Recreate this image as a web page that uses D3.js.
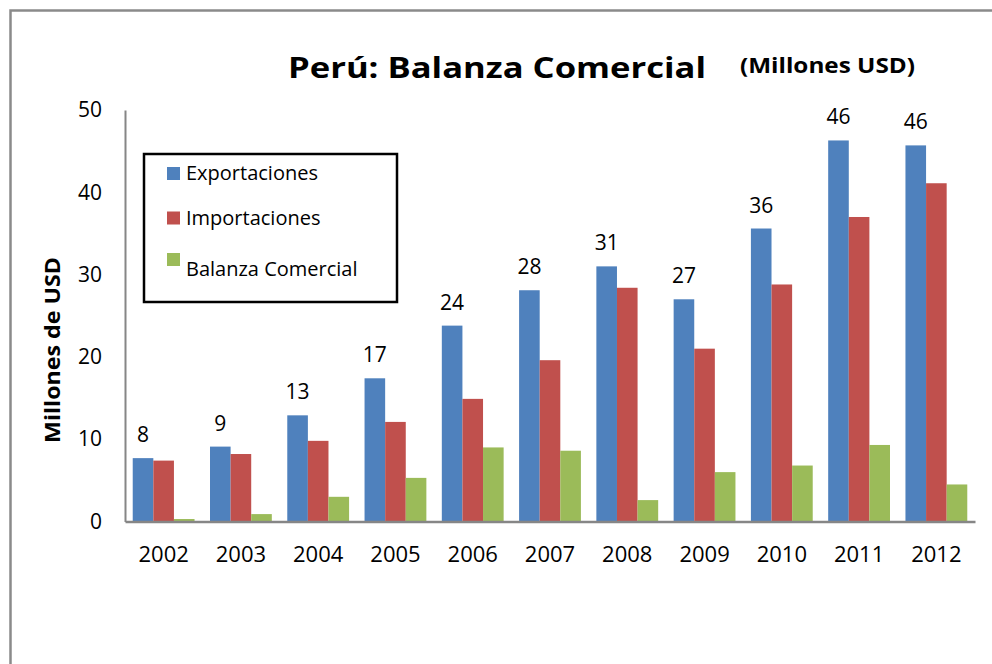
<!DOCTYPE html>
<html>
<head>
<meta charset="utf-8">
<script src="https://cdn.jsdelivr.net/npm/d3@7"></script>
<style>
  body { margin: 0; background: #fff; }
  svg text { font-family: "Open Sans", "DejaVu Sans", sans-serif; fill: #000; }
</style>
</head>
<body>
<svg id="chart" width="992" height="664"></svg>
<script>
// Data (millones USD)
const years = ["2002", "2003", "2004", "2005", "2006", "2007", "2008", "2009", "2010", "2011", "2012"];
const series = ["Exportaciones", "Importaciones", "Balanza Comercial"];
const exportaciones = [7.7, 9.1, 12.9, 17.4, 23.8, 28.1, 31.0, 27.0, 35.6, 46.3, 45.7];
const importaciones = [7.4, 8.2, 9.8, 12.1, 14.9, 19.6, 28.4, 21.0, 28.8, 37.0, 41.1];
const balanza = [0.3, 0.9, 3.0, 5.3, 9.0, 8.6, 2.6, 6.0, 6.8, 9.3, 4.5];
const colors = ["#4F81BD", "#C0504D", "#9BBB59"];
const yTicks = [0, 10, 20, 30, 40, 50];

const svg = d3.select("#chart");

// outer frame (goes off the right and bottom edges)
svg.append("rect")
  .attr("x", 10.5).attr("y", 10.5)
  .attr("width", 1000).attr("height", 700)
  .attr("fill", "none")
  .attr("stroke", "#8a8a8a")
  .attr("stroke-width", 2.5);

const plot = {left: 125, right: 975, top: 110, bottom: 521.5};

const x = d3.scaleBand()
  .domain(years)
  .range([plot.left, plot.right])
  .paddingInner(0.2)
  .paddingOuter(0.1);

const xs = d3.scaleBand()
  .domain(series)
  .range([0, x.bandwidth()]);

const y = d3.scaleLinear()
  .domain([0, 50])
  .range([plot.bottom, plot.top]);

// rows for drawing
const rows = years.map((yr, i) => ({
  year: yr,
  values: [exportaciones[i], importaciones[i], balanza[i]]
}));

// bars
const groups = svg.append("g").selectAll("g")
  .data(rows)
  .join("g")
  .attr("transform", d => `translate(${x(d.year)},0)`);

groups.selectAll("rect")
  .data(d => d.values.map((v, j) => ({key: series[j], value: v, j: j})))
  .join("rect")
  .attr("x", d => xs(d.key))
  .attr("y", d => y(d.value))
  .attr("width", xs.bandwidth())
  .attr("height", d => y(0) - y(d.value))
  .attr("fill", d => colors[d.j]);

// labels on exportaciones only
groups.append("text")
  .attr("x", xs("Exportaciones") + xs.bandwidth() / 2)
  .attr("y", d => y(d.values[0]) - 16)
  .attr("text-anchor", "middle")
  .style("font-size", "21px")
  .text(d => Math.round(d.values[0]));

// axes
const yAxis = d3.axisLeft(y)
  .tickValues(yTicks)
  .tickSize(0)
  .tickPadding(23);

const yg = svg.append("g")
  .attr("transform", `translate(${plot.left},0)`)
  .call(yAxis);
yg.select(".domain").attr("stroke", "#868686").attr("stroke-width", 2);
yg.selectAll("text").style("font-size", "21px").attr("fill", "#000");

const xAxis = d3.axisBottom(x)
  .tickSize(0)
  .tickPadding(25);

const xg = svg.append("g")
  .attr("transform", `translate(0,${plot.bottom})`)
  .call(xAxis);
xg.select(".domain").attr("stroke", "#868686").attr("stroke-width", 2.5);
xg.selectAll("text").style("font-size", "22px").attr("fill", "#000");

// title
svg.append("text")
  .attr("x", 288).attr("y", 78)
  .attr("textLength", 418)
  .attr("lengthAdjust", "spacingAndGlyphs")
  .style("font-size", "29px").style("font-weight", "bold")
  .text("Perú: Balanza Comercial");

svg.append("text")
  .attr("x", 740).attr("y", 73)
  .attr("textLength", 175)
  .attr("lengthAdjust", "spacingAndGlyphs")
  .style("font-size", "22px").style("font-weight", "bold")
  .text("(Millones USD)");

// y axis title
svg.append("text")
  .attr("transform", "translate(60,350) rotate(-90)")
  .attr("text-anchor", "middle")
  .attr("textLength", 186)
  .attr("lengthAdjust", "spacingAndGlyphs")
  .style("font-size", "21px").style("font-weight", "bold")
  .text("Millones de USD");

// legend
const legend = svg.append("g");
legend.append("rect")
  .attr("x", 144).attr("y", 154)
  .attr("width", 253).attr("height", 148)
  .attr("fill", "#fff")
  .attr("stroke", "#000")
  .attr("stroke-width", 2.5);

const swatchY = [167, 211.5, 253];
const labelY = [180, 225, 276];

const items = legend.selectAll("g.item")
  .data(series)
  .join("g")
  .attr("class", "item");

items.append("rect")
  .attr("x", 167)
  .attr("y", (d, i) => swatchY[i])
  .attr("width", 13).attr("height", 13)
  .attr("fill", (d, i) => colors[i]);

items.append("text")
  .attr("x", 186)
  .attr("y", (d, i) => labelY[i])
  .style("font-size", "20px")
  .text(d => d);
</script>
</body>
</html>
